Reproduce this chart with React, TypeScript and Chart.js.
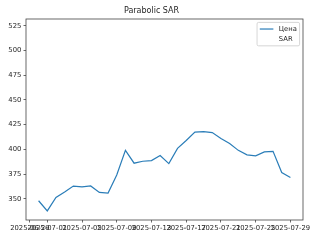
import React, { useEffect, useRef } from 'react';
import { Chart, registerables } from 'chart.js';

Chart.register(...registerables);

const FONT = "'DejaVu Sans', 'Liberation Sans', sans-serif";

const titleText = 'Parabolic SAR';
const seriesLabels = ['Цена', 'SAR'];

const dates = [
  '2025-06-30', '2025-07-01', '2025-07-02', '2025-07-03', '2025-07-04', '2025-07-05',
  '2025-07-06', '2025-07-07', '2025-07-08', '2025-07-09', '2025-07-10', '2025-07-11',
  '2025-07-12', '2025-07-13', '2025-07-14', '2025-07-15', '2025-07-16', '2025-07-17',
  '2025-07-18', '2025-07-19', '2025-07-20', '2025-07-21', '2025-07-22', '2025-07-23',
  '2025-07-24', '2025-07-25', '2025-07-26', '2025-07-27', '2025-07-28', '2025-07-29',
];

const prices = [
  348, 337.7, 351.4, 356.8, 362.8, 362, 363, 356.4, 355.7, 374,
  399, 386, 388, 388.6, 393.7, 385.6, 401, 409, 417.5, 418,
  417, 411, 406, 399, 394.5, 393.5, 397.5, 398, 376.5, 371.5,
];

const sarValues: number[] = [];

const xTickLabels = [
  '2025-06-29', '2025-07-01', '2025-07-05', '2025-07-09', '2025-07-13',
  '2025-07-17', '2025-07-21', '2025-07-25', '2025-07-29',
];

const yTickValues = [350, 375, 400, 425, 450, 475, 500, 525];
const yMin = 328.5;
const yMax = 532;

const dayNum = (d: string) => Date.parse(d + 'T00:00:00Z') / 86400000;

const TICK_FONT = 6.8;
const TEXT_COLOR = '#262626';
const AXIS_COLOR = '#444444';

const framePlugin = {
  id: 'mplFrame',
  afterDatasetsDraw(chart: any) {
    const { ctx, chartArea } = chart;
    ctx.save();
    ctx.strokeStyle = AXIS_COLOR;
    ctx.lineWidth = 0.8;
    ctx.strokeRect(chartArea.left, chartArea.top, chartArea.right - chartArea.left, chartArea.bottom - chartArea.top);
    ctx.restore();
  },
};

const legendPlugin = {
  id: 'mplLegend',
  afterDraw(chart: any) {
    const { ctx, chartArea } = chart;
    const f = TICK_FONT;
    ctx.save();
    ctx.font = `${f}px ${FONT}`;
    const items = chart.data.datasets.map((d: any) => ({ label: d.label, color: d.borderColor }));
    const textW = Math.max(...items.map((it: any) => ctx.measureText(it.label).width));
    const pad = 0.4 * f;
    const handleLen = 2 * f;
    const handlePad = 0.8 * f;
    const spacing = 0.5 * f;
    const rowH = f;
    const boxW = 2 * pad + handleLen + handlePad + textW;
    const boxH = 2 * pad + items.length * rowH + (items.length - 1) * spacing + 1;
    const x0 = chartArea.right - 0.5 * f - boxW;
    const y0 = chartArea.top + 0.5 * f;
    const r = 1.5;
    ctx.beginPath();
    ctx.moveTo(x0 + r, y0);
    ctx.lineTo(x0 + boxW - r, y0);
    ctx.quadraticCurveTo(x0 + boxW, y0, x0 + boxW, y0 + r);
    ctx.lineTo(x0 + boxW, y0 + boxH - r);
    ctx.quadraticCurveTo(x0 + boxW, y0 + boxH, x0 + boxW - r, y0 + boxH);
    ctx.lineTo(x0 + r, y0 + boxH);
    ctx.quadraticCurveTo(x0, y0 + boxH, x0, y0 + boxH - r);
    ctx.lineTo(x0, y0 + r);
    ctx.quadraticCurveTo(x0, y0, x0 + r, y0);
    ctx.closePath();
    ctx.fillStyle = 'rgba(255,255,255,0.8)';
    ctx.fill();
    ctx.strokeStyle = '#cccccc';
    ctx.lineWidth = 0.8;
    ctx.stroke();
    items.forEach((it: any, i: number) => {
      const cy = y0 + pad + rowH / 2 + 0.5 + i * (rowH + spacing);
      ctx.strokeStyle = it.color;
      ctx.lineWidth = 1.2;
      ctx.beginPath();
      ctx.moveTo(x0 + pad, cy);
      ctx.lineTo(x0 + pad + handleLen, cy);
      ctx.stroke();
      ctx.fillStyle = TEXT_COLOR;
      ctx.textBaseline = 'middle';
      ctx.textAlign = 'left';
      ctx.fillText(it.label, x0 + pad + handleLen + handlePad, cy);
    });
    ctx.restore();
  },
};

export default function App() {
  const canvasRef = useRef<HTMLCanvasElement | null>(null);

  useEffect(() => {
    if (!canvasRef.current) return;
    const xs = dates.map(dayNum);
    const first = xs[0];
    const last = xs[xs.length - 1];
    const span = last - first;
    const xMin = first - 0.05 * span;
    const xMax = last + 0.05 * span;
    const xTickValues = xTickLabels.map(dayNum);

    const chart = new Chart(canvasRef.current, {
      type: 'line',
      data: {
        datasets: [
          {
            label: seriesLabels[0],
            data: xs.map((x, i) => ({ x, y: prices[i] })),
            borderColor: '#2a7db8',
            borderWidth: 1.2,
            pointRadius: 0,
            tension: 0,
            fill: false,
          },
          {
            label: seriesLabels[1],
            data: sarValues.map((v, i) => ({ x: xs[i], y: v })),
            borderColor: 'rgba(0,0,0,0)',
            showLine: false,
            pointRadius: 0,
          },
        ],
      },
      options: {
        animation: false,
        responsive: false,
        devicePixelRatio: 1,
        layout: { padding: { left: 0, right: 17, top: 0, bottom: 0 } },
        plugins: {
          legend: { display: false },
          tooltip: { enabled: false },
          title: {
            display: true,
            text: titleText,
            color: TEXT_COLOR,
            font: { family: FONT, size: 8, weight: 'normal' },
            padding: { top: 6.6, bottom: 2.8 },
          },
        },
        scales: {
          x: {
            type: 'linear',
            min: xMin,
            max: xMax,
            afterBuildTicks: (scale: any) => {
              scale.ticks = xTickValues.map((v) => ({ value: v }));
            },
            afterFit: (scale: any) => {
              scale.height = 20;
            },
            ticks: {
              autoSkip: false,
              maxRotation: 0,
              minRotation: 0,
              padding: 2,
              color: TEXT_COLOR,
              font: { family: FONT, size: TICK_FONT },
              callback: (value: any) => {
                const idx = xTickValues.findIndex((v) => Math.abs(v - value) < 1e-6);
                return idx >= 0 ? xTickLabels[idx] : '';
              },
            },
            grid: {
              display: true,
              drawOnChartArea: false,
              drawTicks: true,
              tickLength: 2.5,
              color: AXIS_COLOR,
              tickColor: AXIS_COLOR,
              lineWidth: 0.8,
            },
            border: { display: false },
          },
          y: {
            type: 'linear',
            min: yMin,
            max: yMax,
            afterBuildTicks: (scale: any) => {
              scale.ticks = yTickValues.map((v) => ({ value: v }));
            },
            afterFit: (scale: any) => {
              scale.width = 26;
            },
            ticks: {
              padding: 2.2,
              color: TEXT_COLOR,
              font: { family: FONT, size: TICK_FONT },
              callback: (value: any) => String(value),
            },
            grid: {
              display: true,
              drawOnChartArea: false,
              drawTicks: true,
              tickLength: 2.5,
              color: AXIS_COLOR,
              tickColor: AXIS_COLOR,
              lineWidth: 0.8,
            },
            border: { display: false },
          },
        },
      } as any,
      plugins: [framePlugin, legendPlugin],
    });
    return () => chart.destroy();
  }, []);

  return (
    <div style={{ position: 'fixed', left: 0, top: 0, width: 320, height: 240, background: '#fff' }}>
      <canvas ref={canvasRef} width={320} height={240} />
    </div>
  );
}
